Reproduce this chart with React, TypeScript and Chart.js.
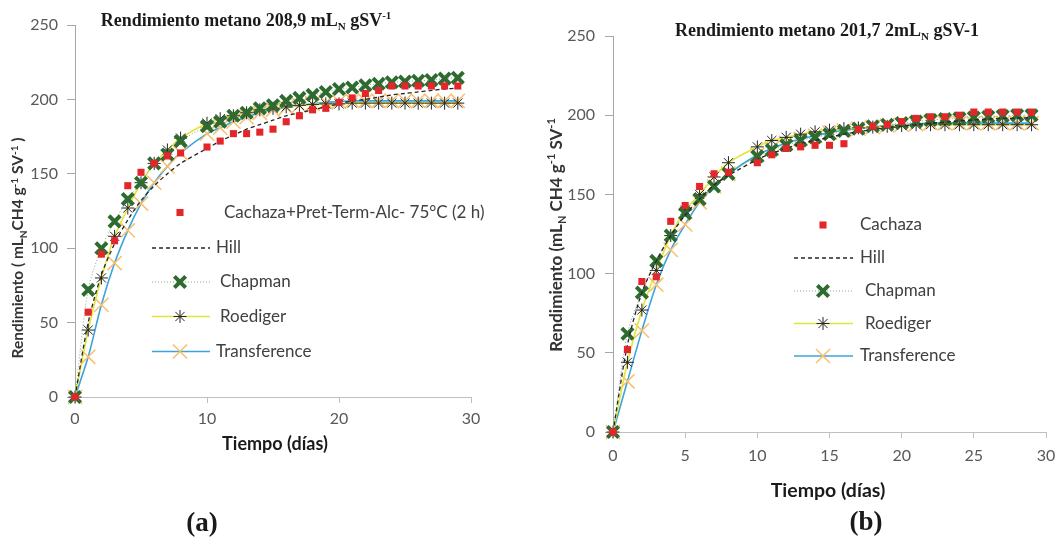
import React, { useEffect, useRef } from 'react';
import { Chart, registerables } from 'chart.js';
import { drawPoint } from 'chart.js/helpers';

Chart.register(...registerables);

// ---------- DATA ----------
const days = [0, 1, 2, 3, 4, 5, 6, 7, 8, 10, 11, 12, 13, 14, 15, 16, 17, 18, 19, 20, 21, 22, 23, 24, 25, 26, 27, 28, 29];
const yTicks = [0, 50, 100, 150, 200, 250];
const xTicksA = [0, 10, 20, 30];
const xTicksB = [0, 5, 10, 15, 20, 25, 30];

const labelsA = ['Cachaza+Pret-Term-Alc- 75°C (2 h)', 'Hill', 'Chapman', 'Roediger', 'Transference'];
const labelsB = ['Cachaza', 'Hill', 'Chapman', 'Roediger', 'Transference'];

const cachazaA = [0, 57, 96, 105, 142, 151, 157, 162, 164, 168, 172, 177, 177, 178, 180, 185, 189, 193, 194, 198, 201, 204, 206, 209, 209, 209, 209, 209, 209];
const hillA = [0, 50, 82, 103, 119, 132, 142, 150, 157, 167, 172, 176, 180, 183, 186, 189, 191, 193, 195, 197, 199, 200, 201.5, 203, 204, 205, 206, 207, 207.5];
const chapmanA = [0, 72, 100, 118, 133, 144, 157, 163, 172, 182, 185, 189, 191, 194, 196, 199, 201, 203, 205, 207, 208, 209.5, 210.5, 211.5, 212, 212.5, 213, 214, 214.5];
const roedigerA = [0, 45, 80, 108, 127, 144, 157, 166, 174, 184, 187, 189, 191, 193, 194, 195, 196, 196.5, 197, 197, 197.5, 197.5, 197.5, 197.5, 197.5, 197.5, 197.5, 197.5, 197.5];
const transferenceA = [0, 27, 62, 90, 112, 130, 144, 155, 164, 177, 181, 185, 188, 191, 193, 194.5, 196, 197, 198, 198.5, 199, 199, 199, 199, 199, 199, 199, 199, 199];

const cachazaB = [0, 52, 95, 98, 133, 143, 155, 163, 164, 170, 175, 179, 180, 181, 181, 182, 191, 193, 194, 196, 198, 199, 199, 200, 202, 202, 202, 202, 202];
const hillB = [0, 55, 88, 108, 124, 137, 147, 156, 162, 172, 176, 179, 182, 184, 186, 188, 189.5, 191, 192, 193, 194, 195, 195.5, 196.5, 197, 197.5, 198, 198, 198.5];
const chapmanB = [0, 62, 88, 108, 124, 138, 147, 155, 163, 174, 178, 181, 184, 186, 188, 190, 191.5, 193, 194, 195, 196, 197, 197.5, 198, 198.5, 199, 199.5, 200, 200];
const roedigerB = [0, 44, 77, 102, 124, 140, 150, 161, 170, 180, 184, 186, 188, 189.5, 190.5, 191.5, 192, 192.5, 193, 193.5, 194, 194, 194, 194, 194, 194, 194, 194, 194];
const transferenceB = [0, 32, 64, 93, 115, 131, 145, 155, 163, 175, 179, 182.5, 185, 187, 189, 190.5, 191.5, 192.5, 193.5, 194, 194.5, 195, 195, 195, 195, 195, 195, 195, 195];

// ---------- STYLE HELPERS ----------
type Run = { t: string; s?: 'sub' | 'sup' };

const SANS = 'Lato, "Open Sans", sans-serif';
const SERIF = '"Liberation Serif", "DejaVu Serif", serif';

function drawRich(ctx: CanvasRenderingContext2D, runs: Run[], x: number, y: number, size: number, family: string, weight: string, color: string, rot = 0) {
  ctx.save();
  ctx.translate(x, y);
  if (rot) ctx.rotate(rot);
  ctx.fillStyle = color;
  ctx.textBaseline = 'alphabetic';
  ctx.textAlign = 'left';
  const fontFor = (r: Run) => `${weight} ${r.s ? Math.round(size * 0.62) : size}px ${family}`;
  let total = 0;
  const widths = runs.map((r) => {
    ctx.font = fontFor(r);
    const w = ctx.measureText(r.t).width;
    total += w;
    return w;
  });
  let cx = -total / 2;
  const base = size * 0.35;
  runs.forEach((r, i) => {
    ctx.font = fontFor(r);
    const dy = r.s === 'sub' ? size * 0.22 : r.s === 'sup' ? -size * 0.38 : 0;
    ctx.fillText(r.t, cx, base + dy);
    cx += widths[i];
  });
  ctx.restore();
}

const decoPlugin = {
  id: 'deco',
  afterDraw(chart: any) {
    const o = chart.options.plugins.deco;
    if (!o) return;
    const ctx: CanvasRenderingContext2D = chart.ctx;
    drawRich(ctx, o.title.runs, o.title.x, o.title.y, o.title.size, SERIF, 'bold', '#1a1a1a');
    drawRich(ctx, o.yTitle.runs, o.yTitle.x, o.yTitle.y, o.yTitle.size, SANS, 'bold', '#333333', -Math.PI / 2);
    drawRich(ctx, [{ t: o.xTitle.text }], o.xTitle.x, o.xTitle.y, o.xTitle.size, SANS, 'bold', '#1a1a1a');
    drawRich(ctx, [{ t: o.panel.text }], o.panel.x, o.panel.y, o.panel.size, SERIF, 'bold', '#1a1a1a');
    const lg = o.legend;
    chart.data.datasets.forEach((ds: any, i: number) => {
      const y = lg.ys[i];
      ctx.save();
      if (ds.showLine) {
        ctx.strokeStyle = ds.borderColor;
        ctx.lineWidth = ds.borderWidth;
        ctx.setLineDash(ds.borderDash || []);
        ctx.beginPath();
        ctx.moveTo(lg.x0, y);
        ctx.lineTo(lg.x1, y);
        ctx.stroke();
      }
      ctx.setLineDash([]);
      if (ds.pointRadius > 0) {
        ctx.strokeStyle = ds.pointBorderColor;
        ctx.fillStyle = ds.pointBackgroundColor;
        ctx.lineWidth = ds.pointBorderWidth;
        drawPoint(ctx, { pointStyle: ds.pointStyle, radius: ds.pointRadius, rotation: 0, borderWidth: ds.pointBorderWidth } as any, lg.mx, y);
      }
      ctx.font = `${lg.size}px ${SANS}`;
      ctx.fillStyle = '#404040';
      ctx.textBaseline = 'middle';
      ctx.textAlign = 'left';
      ctx.fillText(ds.label, lg.textX[i], y);
      ctx.restore();
    });
  },
};

function pts(vals: number[]) {
  return days.map((d, i) => ({ x: d, y: vals[i] }));
}

function makeDatasets(labels: string[], cach: number[], hill: number[], chap: number[], roed: number[], trans: number[]) {
  return [
    {
      label: labels[0], data: pts(cach), showLine: false,
      pointStyle: 'rect', pointRadius: 5, pointBorderWidth: 0,
      pointBackgroundColor: '#e3262a', pointBorderColor: '#e3262a',
      borderColor: '#e3262a', backgroundColor: '#e3262a', clip: false,
    },
    {
      label: labels[1], data: pts(hill), showLine: true, tension: 0.3,
      borderColor: '#262626', borderWidth: 1.3, borderDash: [4, 3],
      pointRadius: 0, pointBorderWidth: 0, pointStyle: 'circle',
      pointBackgroundColor: '#262626', pointBorderColor: '#262626', clip: false,
    },
    {
      label: labels[2], data: pts(chap), showLine: true, tension: 0.3,
      borderColor: '#7fae7f', borderWidth: 1, borderDash: [1, 2],
      pointStyle: 'crossRot', pointRadius: 8, pointBorderWidth: 4,
      pointBackgroundColor: '#2e6b31', pointBorderColor: '#2e6b31', clip: false,
    },
    {
      label: labels[3], data: pts(roed), showLine: true, tension: 0.3,
      borderColor: '#e4e43a', borderWidth: 1.6,
      pointStyle: 'star', pointRadius: 6.5, pointBorderWidth: 1,
      pointBackgroundColor: '#262626', pointBorderColor: '#262626', clip: false,
    },
    {
      label: labels[4], data: pts(trans), showLine: true, tension: 0.3,
      borderColor: '#3da3da', borderWidth: 1.6,
      pointStyle: 'crossRot', pointRadius: 10, pointBorderWidth: 1.5,
      pointBackgroundColor: '#f8bf6c', pointBorderColor: '#f8bf6c', clip: false,
    },
  ];
}

function makeConfig(p: any): any {
  return {
    type: 'scatter',
    data: { datasets: p.datasets },
    plugins: [decoPlugin],
    options: {
      responsive: false,
      animation: false,
      layout: { padding: { top: p.top, right: p.right, left: 0, bottom: 0 } },
      plugins: {
        legend: { display: false },
        tooltip: { enabled: false },
        title: { display: false },
        deco: p.deco,
      },
      scales: {
        x: {
          type: 'linear', min: 0, max: 30,
          afterFit: (s: any) => { s.height = p.xHeight; s.paddingLeft = 0; s.paddingRight = 0; },
          afterBuildTicks: (s: any) => { s.ticks = p.xTicks.map((v: number) => ({ value: v })); },
          grid: { display: true, drawOnChartArea: false, drawTicks: true, tickLength: 6, color: '#bfbfbf' },
          border: { display: true, color: '#bfbfbf', width: 1 },
          ticks: { color: '#595959', font: { family: SANS, size: 16 }, padding: p.xPad, maxRotation: 0, autoSkip: false },
        },
        y: {
          type: 'linear', min: 0, max: 250,
          afterFit: (s: any) => { s.width = p.yWidth; s.paddingTop = 0; s.paddingBottom = 0; },
          afterBuildTicks: (s: any) => { s.ticks = yTicks.map((v) => ({ value: v })); },
          grid: { display: true, drawOnChartArea: false, drawTicks: true, tickLength: 8, color: '#a6a6a6' },
          border: { display: true, color: '#a6a6a6', width: 1 },
          ticks: { color: '#595959', font: { family: SANS, size: 16 }, padding: p.yPad, autoSkip: false },
        },
      },
    },
  };
}

const panelA = {
  datasets: makeDatasets(labelsA, cachazaA, hillA, chapmanA, roedigerA, transferenceA),
  xTicks: xTicksA, top: 25, right: 59, xHeight: 140, yWidth: 75, xPad: 6, yPad: 9,
  deco: {
    title: { runs: [{ t: 'Rendimiento metano 208,9 mL' }, { t: 'N', s: 'sub' }, { t: ' gSV' }, { t: '-1', s: 'sup' }], x: 246, y: 20, size: 18 },
    yTitle: { runs: [{ t: 'Rendimiento ( mL' }, { t: 'N', s: 'sub' }, { t: 'CH4 g' }, { t: '-1', s: 'sup' }, { t: ' SV' }, { t: '-1', s: 'sup' }, { t: ' )' }], x: 18, y: 248, size: 15.5 },
    xTitle: { text: 'Tiempo (días)', x: 275, y: 444, size: 18 },
    panel: { text: '(a)', x: 202, y: 522, size: 27 },
    legend: { x0: 152, x1: 210, mx: 180, ys: [212.5, 248, 282, 316.5, 351.5], textX: [224, 216, 220, 220, 216], size: 17 },
  },
};

const panelB = {
  datasets: makeDatasets(labelsB, cachazaB, hillB, chapmanB, roedigerB, transferenceB),
  xTicks: xTicksB, top: 36, right: 12, xHeight: 105, yWidth: 83, xPad: 8, yPad: 10,
  deco: {
    title: { runs: [{ t: 'Rendimiento metano 201,7 2mL' }, { t: 'N', s: 'sub' }, { t: ' gSV-1' }], x: 297, y: 30, size: 18 },
    yTitle: { runs: [{ t: 'Rendimiento (mL' }, { t: 'N', s: 'sub' }, { t: ' CH4 g' }, { t: '-1', s: 'sup' }, { t: ' SV' }, { t: '-1', s: 'sup' }], x: 26, y: 235, size: 17 },
    xTitle: { text: 'Tiempo (días)', x: 298, y: 490, size: 19.5 },
    panel: { text: '(b)', x: 336, y: 521, size: 27 },
    legend: { x0: 264, x1: 323, mx: 293, ys: [225, 258, 291, 323.5, 356], textX: [330, 330, 335, 335, 330], size: 17 },
  },
};

function Panel({ p, left, width }: { p: any; left: number; width: number }) {
  const ref = useRef<HTMLCanvasElement | null>(null);
  useEffect(() => {
    if (!ref.current) return;
    const chart = new Chart(ref.current, makeConfig(p));
    return () => chart.destroy();
  }, []);
  return (
    <canvas
      ref={ref}
      width={width}
      height={537}
      style={{ position: 'absolute', left, top: 0, width, height: 537 }}
    />
  );
}

export default function App() {
  return (
    <div style={{ position: 'absolute', left: 0, top: 0, width: 1058, height: 537, background: '#ffffff' }}>
      <Panel p={panelA} left={0} width={530} />
      <Panel p={panelB} left={530} width={528} />
    </div>
  );
}
